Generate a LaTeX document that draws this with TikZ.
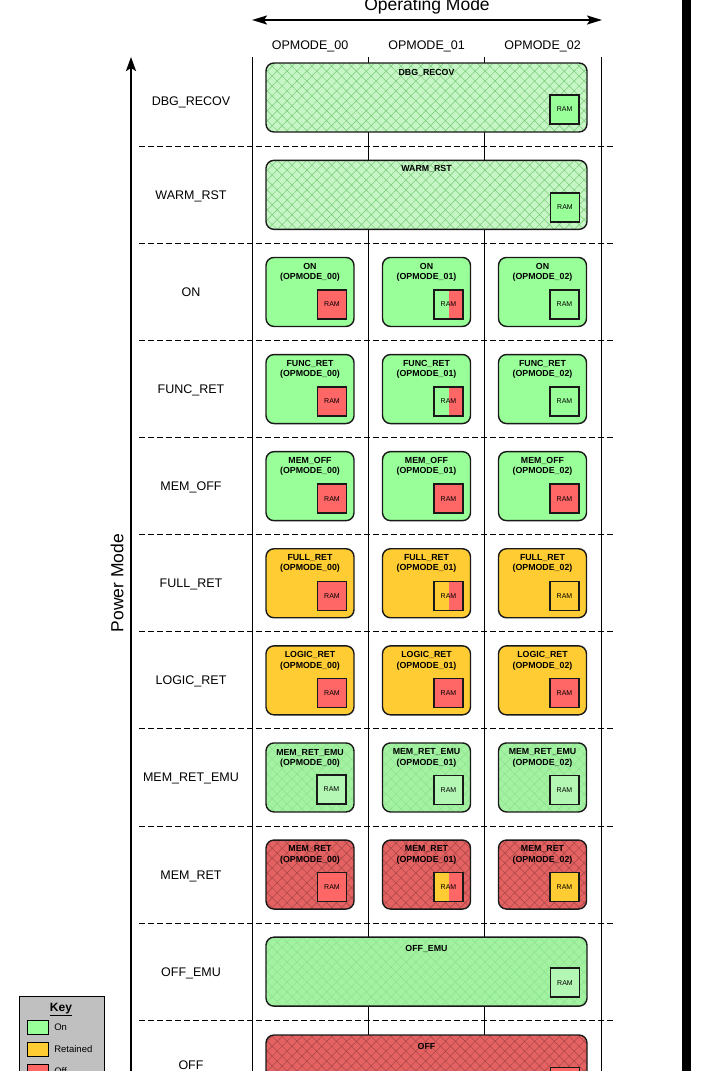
\documentclass[tikz,border=0pt]{standalone}
\usepackage{fontspec}
\setmainfont{Liberation Sans}
\usetikzlibrary{arrows.meta,positioning,patterns.meta}

\definecolor{ongreen}{HTML}{99FF99}
\definecolor{retyellow}{HTML}{FFCC33}
\definecolor{offred}{HTML}{FF6666}
\definecolor{palegreen}{HTML}{C6F5C6}
\definecolor{hatchgreen}{HTML}{78CC78}
\definecolor{emugreen}{HTML}{A2F2A2}
\definecolor{emuhatch}{HTML}{8CDF8C}
\definecolor{ramgreen}{HTML}{B4F6B4}
\definecolor{dimred}{HTML}{E46262}
\definecolor{hatchred}{HTML}{A84646}
\definecolor{keygray}{HTML}{C0C0C0}

\begin{document}
\begin{tikzpicture}[
  x=1pt,y=-1pt,
  every node/.append style={font=\fontsize{12.5}{15}\selectfont},
  twoway/.style={line width=1.9pt,{Stealth[length=15pt,width=9pt,inset=3pt]}-{Stealth[length=15pt,width=9pt,inset=3pt]}},
  oneway/.style={line width=2.2pt,-{Stealth[length=14pt,width=10pt,inset=3pt]}},
  grid/.style={line width=0.9pt},
  rowsep/.style={line width=0.9pt,dash pattern=on 6pt off 3pt},
  mode/.style={draw=black!90,line width=1.4pt,rounded corners=8pt,minimum width=88pt,minimum height=69pt,inner sep=0pt},
  wide/.style={mode,minimum width=321pt},
  onbox/.style={fill=ongreen},
  retbox/.style={fill=retyellow},
  dbgbox/.style={preaction={fill=palegreen},pattern={Hatch[angle=45,distance=7pt,line width=0.5pt]},pattern color=hatchgreen},
  emubox/.style={preaction={fill=emugreen},pattern={Hatch[angle=45,distance=7pt,line width=0.4pt]},pattern color=emuhatch},
  offbox/.style={preaction={fill=dimred},pattern={Hatch[angle=45,distance=7pt,line width=0.5pt]},pattern color=hatchred},
  title/.style={font=\bfseries\fontsize{8.8}{10.5}\selectfont,align=center,inner sep=0pt},
  ram/.style={draw=black!90,line width=1.4pt,minimum size=29pt,inner sep=0pt,font=\fontsize{7}{8}\selectfont},
  halfoff/.style={path picture={\fill[offred] (path picture bounding box.north) rectangle (path picture bounding box.south east);}},
  plabel/.style={anchor=base},
  swatch/.style={draw,line width=1.2pt,minimum width=21pt,minimum height=14pt,inner sep=0pt},
  keytext/.style={font=\fontsize{9.5}{11}\selectfont,inner sep=0pt}
]
  \useasboundingbox (0,0) rectangle (713,1071);
  \fill (682,0) rectangle (691,1071);

  % axes
  \node[anchor=base,font=\fontsize{17.5}{20}\selectfont] (opmode) at (427,10) {Operating Mode};
  \coordinate (opl) at (252,20);
  \coordinate (opr) at (602,20);
  \draw[twoway] (opl) -- (opr);
  \node[plabel] (op0) at (310,49) {OPMODE\_00};
  \node[plabel] (op1) at (426.5,49) {OPMODE\_01};
  \node[plabel] (op2) at (542.5,49) {OPMODE\_02};

  \coordinate (pmbot) at (131,1080);
  \coordinate (pmtop) at (131,57);
  \draw[oneway] (pmbot) -- (pmtop);
  \node[rotate=90,font=\fontsize{17.5}{20}\selectfont] (pmode) at (117,583) {Power Mode};

  % table
  \draw[grid] (252,57) -- (252,1071);
  \draw[grid] (368,57) -- (368,1071);
  \draw[grid] (484,57) -- (484,1071);
  \draw[grid] (601,57) -- (601,1071);
  \draw[rowsep] (139,146.3) -- (614,146.3);
  \draw[rowsep] (139,243.4) -- (614,243.4);
  \draw[rowsep] (139,340.5) -- (614,340.5);
  \draw[rowsep] (139,437.6) -- (614,437.6);
  \draw[rowsep] (139,534.7) -- (614,534.7);
  \draw[rowsep] (139,631.8) -- (614,631.8);
  \draw[rowsep] (139,728.9) -- (614,728.9);
  \draw[rowsep] (139,826.0) -- (614,826.0);
  \draw[rowsep] (139,923.1) -- (614,923.1);
  \draw[rowsep] (139,1020.2) -- (614,1020.2);

  % power modes
  \node[plabel] (ldbg) at (191,105.5) {DBG\_RECOV};
  \node[plabel] (lwarm) at (191,199.3) {WARM\_RST};
  \node[plabel] (lon) at (191,296.4) {ON};
  \node[plabel] (lfunc) at (191,393.5) {FUNC\_RET};
  \node[plabel] (lmemoff) at (191,490.6) {MEM\_OFF};
  \node[plabel] (lfull) at (191,587.7) {FULL\_RET};
  \node[plabel] (llogic) at (191,684.8) {LOGIC\_RET};
  \node[plabel] (lemu) at (191,781.9) {MEM\_RET\_EMU};
  \node[plabel] (lmemret) at (191,879.0) {MEM\_RET};
  \node[plabel] (loffemu) at (191,976.1) {OFF\_EMU};
  \node[plabel] (loff) at (191,1069) {OFF};

  % DBG_RECOV / WARM_RST
  \node[wide,dbgbox] (dbg) at (426.5,97.5) {};
  \node[title,below=6pt of dbg.north] (dbgt) {DBG\_RECOV};
  \node[ram,fill=ongreen,above left=7.5pt and 7.5pt of dbg.south east] (dbgr) {RAM};
  \node[wide,dbgbox] (warm) at (426.5,194.85) {};
  \node[title,below=6pt of warm.north] (warmt) {WARM\_RST};
  \node[ram,fill=ongreen,above left=7.5pt and 7.5pt of warm.south east] (warmr) {RAM};

  % ON
  \node[mode,onbox] (on0) at (310,291.95) {};
  \node[title,below=6pt of on0.north] (on0t) {ON\\(OPMODE\_00)};
  \node[ram,fill=offred,above left=7.5pt and 7.5pt of on0.south east] (on0r) {RAM};
  \node[mode,onbox] (on1) at (426.5,291.95) {};
  \node[title,below=6pt of on1.north] (on1t) {ON\\(OPMODE\_01)};
  \node[ram,fill=ongreen,halfoff,above left=7.5pt and 7.5pt of on1.south east] (on1r) {RAM};
  \node[mode,onbox] (on2) at (542.5,291.95) {};
  \node[title,below=6pt of on2.north] (on2t) {ON\\(OPMODE\_02)};
  \node[ram,fill=ongreen,above left=7.5pt and 7.5pt of on2.south east] (on2r) {RAM};

  % FUNC_RET
  \node[mode,onbox] (func0) at (310,389.05) {};
  \node[title,below=6pt of func0.north] (func0t) {FUNC\_RET\\(OPMODE\_00)};
  \node[ram,fill=offred,above left=7.5pt and 7.5pt of func0.south east] (func0r) {RAM};
  \node[mode,onbox] (func1) at (426.5,389.05) {};
  \node[title,below=6pt of func1.north] (func1t) {FUNC\_RET\\(OPMODE\_01)};
  \node[ram,fill=ongreen,halfoff,above left=7.5pt and 7.5pt of func1.south east] (func1r) {RAM};
  \node[mode,onbox] (func2) at (542.5,389.05) {};
  \node[title,below=6pt of func2.north] (func2t) {FUNC\_RET\\(OPMODE\_02)};
  \node[ram,fill=ongreen,above left=7.5pt and 7.5pt of func2.south east] (func2r) {RAM};

  % MEM_OFF
  \node[mode,onbox] (memoff0) at (310,486.15) {};
  \node[title,below=6pt of memoff0.north] (memoff0t) {MEM\_OFF\\(OPMODE\_00)};
  \node[ram,fill=offred,above left=7.5pt and 7.5pt of memoff0.south east] (memoff0r) {RAM};
  \node[mode,onbox] (memoff1) at (426.5,486.15) {};
  \node[title,below=6pt of memoff1.north] (memoff1t) {MEM\_OFF\\(OPMODE\_01)};
  \node[ram,fill=offred,above left=7.5pt and 7.5pt of memoff1.south east] (memoff1r) {RAM};
  \node[mode,onbox] (memoff2) at (542.5,486.15) {};
  \node[title,below=6pt of memoff2.north] (memoff2t) {MEM\_OFF\\(OPMODE\_02)};
  \node[ram,fill=offred,above left=7.5pt and 7.5pt of memoff2.south east] (memoff2r) {RAM};

  % FULL_RET
  \node[mode,retbox] (full0) at (310,583.25) {};
  \node[title,below=6pt of full0.north] (full0t) {FULL\_RET\\(OPMODE\_00)};
  \node[ram,fill=offred,above left=7.5pt and 7.5pt of full0.south east] (full0r) {RAM};
  \node[mode,retbox] (full1) at (426.5,583.25) {};
  \node[title,below=6pt of full1.north] (full1t) {FULL\_RET\\(OPMODE\_01)};
  \node[ram,fill=retyellow,halfoff,above left=7.5pt and 7.5pt of full1.south east] (full1r) {RAM};
  \node[mode,retbox] (full2) at (542.5,583.25) {};
  \node[title,below=6pt of full2.north] (full2t) {FULL\_RET\\(OPMODE\_02)};
  \node[ram,fill=retyellow,above left=7.5pt and 7.5pt of full2.south east] (full2r) {RAM};

  % LOGIC_RET
  \node[mode,retbox] (logic0) at (310,680.35) {};
  \node[title,below=6pt of logic0.north] (logic0t) {LOGIC\_RET\\(OPMODE\_00)};
  \node[ram,fill=offred,above left=7.5pt and 7.5pt of logic0.south east] (logic0r) {RAM};
  \node[mode,retbox] (logic1) at (426.5,680.35) {};
  \node[title,below=6pt of logic1.north] (logic1t) {LOGIC\_RET\\(OPMODE\_01)};
  \node[ram,fill=offred,above left=7.5pt and 7.5pt of logic1.south east] (logic1r) {RAM};
  \node[mode,retbox] (logic2) at (542.5,680.35) {};
  \node[title,below=6pt of logic2.north] (logic2t) {LOGIC\_RET\\(OPMODE\_02)};
  \node[ram,fill=offred,above left=7.5pt and 7.5pt of logic2.south east] (logic2r) {RAM};

  % MEM_RET_EMU
  \node[mode,emubox] (emu0) at (310,777.45) {};
  \node[title,below=6pt of emu0.north] (emu0t) {MEM\_RET\_EMU\\(OPMODE\_00)};
  \node[ram,fill=ramgreen,above left=7.5pt and 7.5pt of emu0.south east] (emu0r) {RAM};
  \node[mode,emubox] (emu1) at (426.5,777.45) {};
  \node[title,below=6pt of emu1.north] (emu1t) {MEM\_RET\_EMU\\(OPMODE\_01)};
  \node[ram,fill=ramgreen,above left=7.5pt and 7.5pt of emu1.south east] (emu1r) {RAM};
  \node[mode,emubox] (emu2) at (542.5,777.45) {};
  \node[title,below=6pt of emu2.north] (emu2t) {MEM\_RET\_EMU\\(OPMODE\_02)};
  \node[ram,fill=ramgreen,above left=7.5pt and 7.5pt of emu2.south east] (emu2r) {RAM};

  % MEM_RET
  \node[mode,offbox] (memret0) at (310,874.55) {};
  \node[title,below=6pt of memret0.north] (memret0t) {MEM\_RET\\(OPMODE\_00)};
  \node[ram,fill=offred,above left=7.5pt and 7.5pt of memret0.south east] (memret0r) {RAM};
  \node[mode,offbox] (memret1) at (426.5,874.55) {};
  \node[title,below=6pt of memret1.north] (memret1t) {MEM\_RET\\(OPMODE\_01)};
  \node[ram,fill=retyellow,halfoff,above left=7.5pt and 7.5pt of memret1.south east] (memret1r) {RAM};
  \node[mode,offbox] (memret2) at (542.5,874.55) {};
  \node[title,below=6pt of memret2.north] (memret2t) {MEM\_RET\\(OPMODE\_02)};
  \node[ram,fill=retyellow,above left=7.5pt and 7.5pt of memret2.south east] (memret2r) {RAM};

  % OFF_EMU / OFF
  \node[wide,emubox] (offemu) at (426.5,971.65) {};
  \node[title,below=9pt of offemu.north] (offemut) {OFF\_EMU};
  \node[ram,fill=ramgreen,above left=9pt and 7.5pt of offemu.south east] (offemur) {RAM};
  \node[wide,offbox] (off) at (426.5,1069.5) {};
  \node[title,below=9pt of off.north] (offt) {OFF};
  \node[ram,fill=offred,above left=7.5pt and 7.5pt of off.south east] (offr) {RAM};

  % key
  \node[draw,fill=keygray,line width=1pt,minimum width=85pt,minimum height=100pt,anchor=north west] (key) at (18.5,995.5) {};
  \node[anchor=base,font=\bfseries\fontsize{12}{14}\selectfont] (keyt) at (61,1011) {\underline{Key}};
  \node[swatch,fill=ongreen] (kon) at (38,1027.5) {};
  \node[keytext,right=5pt of kon] (konl) {On};
  \node[swatch,fill=retyellow] (kret) at (38,1049.5) {};
  \node[keytext,right=5pt of kret] (kretl) {Retained};
  \node[swatch,fill=offred] (koff) at (38,1071.5) {};
  \node[keytext,right=5pt of koff] (koffl) {Off};
\end{tikzpicture}
\end{document}
